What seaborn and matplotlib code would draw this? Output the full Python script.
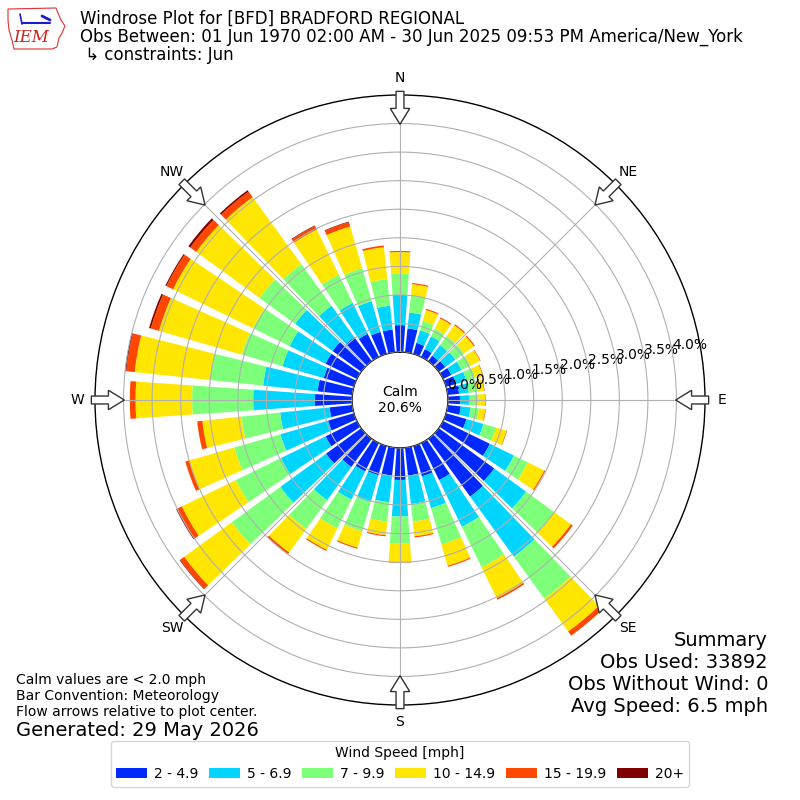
import numpy as np
import matplotlib
matplotlib.use("Agg")
import matplotlib.pyplot as plt
from matplotlib.patches import Patch, Polygon, FancyArrow
import seaborn as sns

# wind direction bins (degrees, meteorological)
directions = [0, 10, 20, 30, 40, 50, 60, 70, 80, 90, 100, 110,
              120, 130, 140, 150, 160, 170, 180, 190, 200, 210, 220, 230,
              240, 250, 260, 270, 280, 290, 300, 310, 320, 330, 340, 350]

# frequency (%) per speed bin
speed_2_5 = [0.47, 0.42, 0.20, 0.15, 0.12, 0.14, 0.16, 0.18, 0.20, 0.21, 0.23, 0.37,
             0.91, 1.20, 1.25, 0.72, 0.55, 0.49, 0.56, 0.49, 0.53, 0.55, 0.61, 0.76,
             0.61, 0.47, 0.40, 0.65, 0.61, 0.55, 0.61, 0.62, 0.52, 0.45, 0.40, 0.40]
speed_5_7 = [0.53, 0.28, 0.23, 0.25, 0.23, 0.22, 0.20, 0.19, 0.17, 0.17, 0.17, 0.31,
             0.47, 0.69, 1.30, 0.91, 0.58, 0.50, 0.64, 0.47, 0.49, 0.55, 0.72, 0.99,
             0.87, 0.87, 0.87, 1.08, 0.96, 0.75, 0.70, 0.81, 0.68, 0.60, 0.56, 0.42]
speed_7_10 = [0.38, 0.30, 0.17, 0.15, 0.20, 0.19, 0.17, 0.16, 0.15, 0.15, 0.15, 0.23,
              0.27, 0.61, 0.91, 0.79, 0.66, 0.31, 0.47, 0.34, 0.53, 0.56, 0.62, 1.05,
              0.88, 0.84, 0.68, 1.07, 0.93, 0.74, 0.71, 0.77, 0.90, 0.55, 0.60, 0.47]
speed_10_15 = [0.37, 0.20, 0.20, 0.20, 0.23, 0.21, 0.19, 0.14, 0.12, 0.12, 0.11, 0.19,
               0.32, 0.36, 0.71, 0.60, 0.39, 0.26, 0.33, 0.24, 0.30, 0.42, 0.51, 1.03,
               1.05, 0.82, 0.69, 0.99, 1.33, 1.51, 1.56, 1.37, 1.45, 0.88, 0.76, 0.56]
speed_15_20 = [0.02, 0.02, 0.02, 0.02, 0.02, 0.02, 0.01, 0.01, 0.01, 0.01, 0.01, 0.01,
               0.02, 0.04, 0.09, 0.03, 0.02, 0.02, 0.01, 0.02, 0.02, 0.02, 0.04, 0.09,
               0.09, 0.07, 0.09, 0.10, 0.15, 0.15, 0.13, 0.13, 0.12, 0.07, 0.08, 0.03]
speed_20p = [0.0, 0.0, 0.0, 0.0, 0.0, 0.0, 0.0, 0.0, 0.0, 0.0, 0.0, 0.0,
             0.0, 0.0, 0.0, 0.0, 0.0, 0.0, 0.0, 0.0, 0.0, 0.0, 0.0, 0.01,
             0.02, 0.0, 0.0, 0.0, 0.02, 0.03, 0.02, 0.04, 0.03, 0.01, 0.01, 0.0]

speed_labels = ["2 - 4.9", "5 - 6.9", "7 - 9.9", "10 - 14.9", "15 - 19.9", "20+"]
compass = ["N", "NE", "E", "SE", "S", "SW", "W", "NW"]
calm_pct = 20.6
rings = [0.0, 0.5, 1.0, 1.5, 2.0, 2.5, 3.0, 3.5, 4.0]

sns.set_style("white")
plt.rcParams["font.family"] = ["DejaVu Sans"]
plt.rcParams["text.color"] = "black"
plt.rcParams["xtick.color"] = "black"
plt.rcParams["ytick.color"] = "black"

cmap = plt.get_cmap("jet")
colors = [cmap((i + 1) / 6.0) for i in range(6)]

fig = plt.figure(figsize=(8, 8), dpi=100)
ax = fig.add_axes([0.11875, 0.11875, 0.7625, 0.7625], projection="polar")
ax.set_theta_zero_location("N")
ax.set_theta_direction(-1)
ax.set_axisbelow(False)

theta = np.radians(directions)
width = np.radians(8)
bottom = np.zeros(len(directions))
series = [speed_2_5, speed_5_7, speed_7_10, speed_10_15, speed_15_20, speed_20p]
for vals, col in zip(series, colors):
    vals = np.array(vals)
    ax.bar(theta, vals, width=width, bottom=bottom, color=col,
           linewidth=0, zorder=2)
    bottom = bottom + vals

ax.set_rorigin(-0.84)
ax.set_ylim(0, 4.5)
ax.set_yticks(rings)
ax.set_yticklabels([f"{r:.1f}%" for r in rings], fontsize=10)
ax.set_rlabel_position(80)
ax.set_xticks(np.radians(np.arange(0, 360, 45)))
ax.set_xticklabels(compass, fontsize=10)
ax.tick_params(axis="x", pad=2)
ax.grid(True, color="#b0b0b0", linewidth=0.8)
for s in ax.spines.values():
    s.set_color("black")
    s.set_linewidth(1.0)

ax.text(0.5, 0.5, f"Calm\n{calm_pct}%", transform=ax.transAxes,
        ha="center", va="center", fontsize=10, zorder=5)

# flow arrows at the rim
for ang in np.arange(0, 360, 45):
    u = np.array([np.sin(np.radians(ang)), np.cos(np.radians(ang))])
    start = 0.5 + 0.506 * u
    d = -0.054 * u
    arr = FancyArrow(start[0], start[1], d[0], d[1], width=0.013,
                     head_width=0.032, head_length=0.026,
                     length_includes_head=True, transform=ax.transAxes,
                     facecolor="white", edgecolor="#333333", linewidth=1.0,
                     clip_on=False, zorder=6)
    ax.add_patch(arr)

# header
fig.text(0.1, 1 - 19 / 800, "Windrose Plot for [BFD] BRADFORD REGIONAL",
         fontsize=12, va="center")
fig.text(0.1, 1 - 37 / 800,
         "Obs Between: 01 Jun 1970 02:00 AM - 30 Jun 2025 09:53 PM America/New_York",
         fontsize=12, va="center")
fig.text(0.1, 1 - 55 / 800, " \u21b3 constraints: Jun", fontsize=12, va="center")

# logo
logo_px = [(8, 9), (56, 8), (58, 13), (61, 20), (65, 26), (62, 33), (59, 38),
           (57, 47), (52, 49), (14, 49), (12, 40), (9, 30), (8, 20)]
logo = Polygon([(x / 800, 1 - y / 800) for x, y in logo_px], closed=True,
               fill=False, edgecolor="#e03030", linewidth=0.8,
               transform=fig.transFigure)
fig.add_artist(logo)
fig.add_artist(plt.Line2D([22 / 800, 50 / 800], [1 - 23 / 800, 1 - 23 / 800],
                          color="#1a1ad0", linewidth=1.5, transform=fig.transFigure))
fig.add_artist(plt.Line2D([20 / 800, 22 / 800], [1 - 14 / 800, 1 - 24 / 800],
                          color="#1a1ad0", linewidth=1.2, transform=fig.transFigure))
fig.add_artist(plt.Line2D([42 / 800, 50 / 800], [1 - 16 / 800, 1 - 20 / 800],
                          color="#1a1ad0", linewidth=2.0, transform=fig.transFigure))
fig.text(31 / 800, 1 - 38 / 800, "IEM", fontsize=12, color="#d02020",
         family="DejaVu Serif", style="italic", ha="center", va="center")

# notes
fig.text(0.02, 1 - 680 / 800, "Calm values are < 2.0 mph", fontsize=10, va="center")
fig.text(0.02, 1 - 696 / 800, "Bar Convention: Meteorology", fontsize=10, va="center")
fig.text(0.02, 1 - 712 / 800, "Flow arrows relative to plot center.", fontsize=10,
         va="center")
fig.text(0.02, 1 - 730 / 800, "Generated: 29 May 2026", fontsize=14, va="center")

summary = ["Summary", "Obs Used: 33892", "Obs Without Wind: 0", "Avg Speed: 6.5 mph"]
for i, line in enumerate(summary):
    fig.text(0.96, 1 - (640 + 22 * i) / 800, line, fontsize=14, ha="right",
             va="center")

handles = [Patch(facecolor=c, edgecolor="none") for c in colors]
fig.legend(handles, speed_labels, loc="lower center", ncol=6,
           bbox_to_anchor=(0.5, 0.008), title="Wind Speed [mph]", fontsize=10,
           title_fontsize=10, handlelength=2.2, handleheight=0.7,
           handletextpad=0.5, columnspacing=0.8, frameon=True)

fig.savefig("out.png", dpi=100)
